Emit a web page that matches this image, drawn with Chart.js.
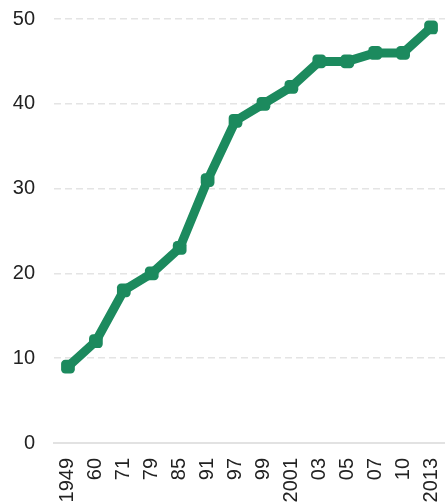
<!DOCTYPE html>
<html>
<head>
<meta charset="utf-8">
<script src="https://cdn.jsdelivr.net/npm/chart.js@4/dist/chart.umd.min.js"></script>
<style>
  html, body { margin: 0; padding: 0; background: #fff; overflow: hidden; }
  canvas { display: block; }
</style>
</head>
<body>
<canvas id="chart" width="445" height="504"></canvas>
<script>
// x labels (years) and the line values
const years = ['1949', '60', '71', '79', '85', '91', '97', '99', '2001', '03', '05', '07', '10', '2013'];
const values = [9, 12, 18, 20, 23, 31, 38, 40, 42, 45, 45, 46, 46, 49];

const green = '#1c8a5e';

new Chart(document.getElementById('chart'), {
  type: 'line',
  data: {
    labels: years,
    datasets: [{
      data: values,
      borderColor: green,
      backgroundColor: green,
      borderWidth: 9,
      borderJoinStyle: 'round',
      pointStyle: 'rectRounded',
      pointRadius: 8,
      pointBorderWidth: 0,
      tension: 0,
      fill: false
    }]
  },
  options: {
    responsive: false,
    animation: false,
    layout: { autoPadding: false, padding: { top: 19, left: 13, right: 0, bottom: 0 } },
    plugins: { legend: { display: false }, tooltip: { enabled: false } },
    scales: {
      x: {
        offset: true,
        grid: { display: false, drawTicks: false },
        border: { display: true, color: '#e2e2e2', width: 2 },
        ticks: {
          minRotation: 90, maxRotation: 90, autoSkip: false, padding: 15,
          color: '#222', font: { family: 'Liberation Sans', size: 20 }
        },
        // fixed band for the rotated labels; they run off the bottom like the original
        afterFit: (scale) => { scale.height = 61; scale.paddingLeft = 0; scale.paddingRight = 0; }
      },
      y: {
        min: 0, max: 50,
        grid: { color: '#e4e4e4', lineWidth: 1.5, drawTicks: false },
        border: { display: false, dash: [7, 4] },
        ticks: {
          stepSize: 10, padding: 19,
          color: '#222', font: { family: 'Liberation Sans', size: 20 }
        },
        afterFit: (scale) => { scale.width = 41; scale.paddingTop = 0; scale.paddingBottom = 0; }
      }
    }
  }
});
</script>
</body>
</html>
